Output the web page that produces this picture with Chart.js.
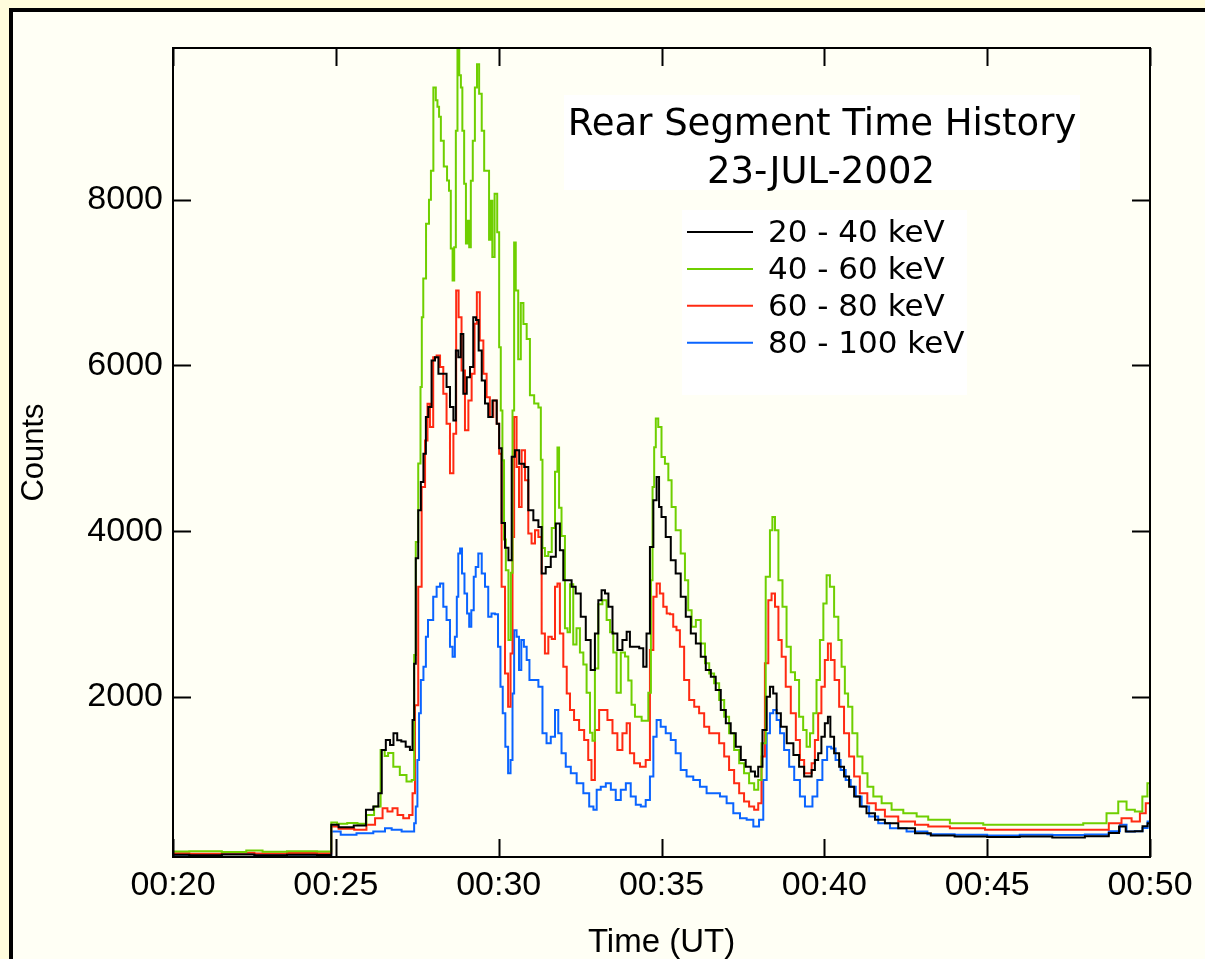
<!DOCTYPE html>
<html>
<head>
<meta charset="utf-8">
<script src="https://cdn.jsdelivr.net/npm/chart.js@4/dist/chart.umd.min.js"></script>
<style>
  html, body { margin: 0; padding: 0; }
  body { width: 1205px; height: 959px; background: #fffcdc; position: relative; overflow: hidden; }
  #panel { position: absolute; left: 9px; top: 8px; right: 0; bottom: 0;
           background: #fffff5; border-left: 4px solid #000; border-top: 4px solid #000; }
  #chart { position: absolute; left: 0; top: 0; }
</style>
</head>
<body>
<div id="panel"></div>
<canvas id="chart" width="1205" height="959"></canvas>
<script>
// minutes after 00:00 UT, counts
const band20_40 = [
  [20.0,96],[21.0,90],[22.0,100],[23.0,92],[24.0,98],[24.85,95],[24.87,458],[25.3,430],[25.8,450],
  [26.05,639],[26.25,679],[26.36,840],[26.46,1361],[26.61,1482],[26.72,1420],[26.82,1562],[26.95,1480],
  [27.07,1462],[27.22,1401],[27.33,1361],[27.38,1723],[27.43,2400],[27.48,3675],[27.58,4253],[27.64,4594],
  [27.74,4936],[27.79,5377],[27.89,5498],[27.99,6060],[28.10,6100],[28.20,5900],[28.35,5900],[28.45,5739],
  [28.56,5498],[28.66,5337],[28.71,6180],[28.81,6100],[28.86,6381],[28.97,5659],[29.07,5859],[29.17,5980],
  [29.27,6582],[29.34,6550],[29.43,6180],[29.53,5819],[29.63,5542],[29.73,5377],[29.89,5578],[29.99,5297],
  [30.04,5000],[30.14,4100],[30.25,3800],[30.35,3650],[30.45,4900],[30.55,4976],[30.71,4815],[30.86,4775],
  [30.96,4253],[31.17,4133],[31.27,4052],[31.37,3490],[31.52,3570],[31.68,3691],[31.83,4093],[31.93,3771],
  [32.04,3410],[32.19,3410],[32.29,3329],[32.44,3249],[32.60,2968],[32.75,2687],[32.90,2325],[33.01,2767],
  [33.11,3169],[33.21,3289],[33.32,3250],[33.42,3088],[33.57,2767],[33.72,2566],[33.88,2687],[33.98,2787],
  [34.08,2606],[34.24,2606],[34.39,2587],[34.49,2365],[34.59,2767],[34.70,3811],[34.80,4373],[34.90,4654],
  [34.95,4293],[35.05,4172],[35.21,3932],[35.36,3651],[35.51,3490],[35.67,3209],[35.82,2968],[35.98,2767],
  [36.13,2647],[36.28,2486],[36.44,2325],[36.59,2245],[36.74,2084],[36.90,1843],[37.05,1683],[37.20,1562],
  [37.36,1401],[37.51,1241],[37.66,1160],[37.82,1100],[37.92,1040],[38.02,1160],[38.18,1602],[38.28,2004],
  [38.38,2124],[38.48,2044],[38.59,1804],[38.74,1642],[38.95,1442],[39.15,1300],[39.30,1160],[39.46,1040],
  [39.56,1040],[39.66,1120],[39.76,1241],[39.86,1321],[39.96,1522],[40.07,1683],[40.15,1763],[40.22,1522],
  [40.38,1321],[40.53,1160],[40.68,1040],[40.84,919],[40.99,799],[41.19,678],[41.40,599],[41.71,518],
  [42.01,478],[42.53,418],[43.04,358],[43.5,330],[44.5,317],[45.5,310],[46.5,317],[47.5,305],[48.5,320],
  [48.97,360],[49.13,437],[49.38,377],[49.69,380],[49.85,440],[50.0,478]
];
const band40_60 = [
  [20.0,135],[21.0,140],[22.0,130],[22.5,148],[23.0,132],[24.0,138],[24.85,135],[24.87,486],[25.2,470],
  [25.5,480],[25.83,470],[26.05,578],[26.3,678],[26.45,1361],[26.55,1290],[26.66,1325],[26.87,1160],
  [27.06,1060],[27.28,980],[27.38,1000],[27.43,2506],[27.48,3871],[27.58,4816],[27.62,5740],[27.66,6582],
  [27.71,7048],[27.83,7711],[27.89,8000],[27.95,8350],[28.04,9353],[28.10,9200],[28.14,9120],[28.20,9000],
  [28.25,8711],[28.38,8400],[28.45,8230],[28.50,8108],[28.56,7410],[28.61,7024],[28.66,7426],[28.71,8831],
  [28.76,9815],[28.82,9500],[28.86,9353],[28.91,8831],[28.97,8193],[29.02,7470],[29.07,7747],[29.12,7426],
  [29.17,8229],[29.24,8711],[29.30,9353],[29.37,9635],[29.43,9277],[29.53,8831],[29.58,8349],[29.68,8350],
  [29.73,7518],[29.78,7988],[29.83,7310],[29.92,8072],[29.99,7606],[30.04,6220],[30.09,5458],[30.14,4855],
  [30.19,3900],[30.25,3530],[30.35,2687],[30.40,3500],[30.45,5458],[30.50,7482],[30.55,6904],[30.65,6076],
  [30.71,6754],[30.81,6500],[30.91,6318],[31.01,5640],[31.17,5542],[31.27,5494],[31.32,4864],[31.37,3798],
  [31.47,3701],[31.58,3749],[31.68,4040],[31.78,4718],[31.83,5009],[31.88,4283],[31.98,3943],[32.09,2829],
  [32.14,2780],[32.24,3361],[32.34,2635],[32.44,2829],[32.55,2537],[32.65,2393],[32.75,2053],[32.86,1569],
  [32.90,1471],[33.01,2344],[33.11,3120],[33.26,3169],[33.37,2928],[33.47,2780],[33.57,2537],[33.67,2053],
  [33.83,2537],[33.93,2489],[34.03,2199],[34.13,1907],[34.24,1763],[34.54,1713],[34.65,2053],[34.70,3410],
  [34.75,4534],[34.80,5012],[34.85,5361],[34.95,5257],[35.05,4895],[35.16,4815],[35.26,4614],[35.36,4293],
  [35.51,4012],[35.67,3731],[35.77,3410],[35.87,3048],[35.98,2847],[36.13,2928],[36.28,2647],[36.39,2406],
  [36.54,2285],[36.69,2165],[36.85,1964],[37.00,1763],[37.15,1562],[37.31,1361],[37.46,1201],[37.61,1081],
  [37.77,960],[37.92,880],[38.02,1000],[38.12,1442],[38.28,3450],[38.38,4012],[38.43,4172],[38.54,4012],
  [38.64,3410],[38.79,3088],[38.89,2606],[39.05,2300],[39.15,2205],[39.30,1763],[39.40,1602],[39.51,1401],
  [39.61,1562],[39.71,1804],[39.81,2205],[39.92,2687],[40.02,3129],[40.12,3470],[40.22,3329],[40.38,2968],
  [40.48,2687],[40.58,2365],[40.68,2044],[40.78,1883],[40.94,1562],[41.09,1281],[41.25,1081],[41.40,919],
  [41.61,799],[41.91,719],[42.22,639],[42.63,599],[43.04,558],[43.34,518],[44.37,478],[45.39,458],
  [46.41,458],[47.44,458],[48.46,478],[48.87,598],[49.18,739],[49.38,639],[49.69,618],[49.84,799],[50.0,960]
];
const band60_80 = [
  [20.0,115],[21.0,110],[22.0,120],[23.0,112],[24.0,118],[24.85,115],[24.87,438],[25.3,410],[25.83,400],
  [26.05,458],[26.36,538],[26.51,659],[26.66,618],[26.82,659],[26.97,578],[27.17,538],[27.33,578],[27.38,840],
  [27.48,1900],[27.58,3329],[27.69,4534],[27.79,5096],[27.84,5538],[27.94,5257],[28.04,6100],[28.15,6120],
  [28.25,5980],[28.35,5659],[28.45,5297],[28.56,4700],[28.66,5177],[28.73,6904],[28.81,6582],[28.91,5940],
  [29.02,5217],[29.12,5578],[29.22,5900],[29.30,6502],[29.36,6884],[29.48,6301],[29.58,5900],[29.68,5618],
  [29.78,5377],[29.89,5578],[29.99,5297],[30.04,4936],[30.14,3329],[30.25,2285],[30.33,1883],[30.40,2526],
  [30.45,3932],[30.50,5377],[30.60,4775],[30.65,4293],[30.76,4976],[30.86,4614],[30.96,3972],[31.06,3852],
  [31.17,4012],[31.27,3932],[31.37,2767],[31.47,2526],[31.58,2727],[31.68,2700],[31.78,3329],[31.83,3370],
  [31.93,2767],[32.04,2365],[32.14,2044],[32.24,1843],[32.39,1723],[32.55,1602],[32.70,1482],[32.80,1241],
  [32.90,1000],[33.01,1602],[33.16,1843],[33.26,1843],[33.42,1723],[33.57,1562],[33.72,1361],[33.88,1562],
  [33.98,1683],[34.08,1321],[34.24,1201],[34.44,1160],[34.59,1241],[34.70,2566],[34.80,3209],[34.90,3370],
  [35.00,3249],[35.11,3088],[35.21,3008],[35.31,3000],[35.41,2847],[35.51,2807],[35.62,2606],[35.77,2205],
  [35.93,1964],[36.08,1883],[36.23,1804],[36.39,1642],[36.54,1562],[36.69,1562],[36.85,1442],[37.00,1281],
  [37.15,1120],[37.31,960],[37.46,840],[37.61,739],[37.77,678],[37.92,639],[38.02,719],[38.12,1281],
  [38.23,2406],[38.33,3169],[38.43,3249],[38.54,3088],[38.64,2687],[38.74,2486],[38.89,2124],[39.05,1804],
  [39.20,1482],[39.30,1241],[39.46,1081],[39.56,1081],[39.66,1201],[39.76,1482],[39.86,1804],[39.96,2124],
  [40.07,2446],[40.15,2647],[40.25,2446],[40.38,2205],[40.53,1883],[40.68,1562],[40.84,1281],[40.99,1040],
  [41.19,840],[41.45,719],[41.71,639],[42.01,558],[42.53,498],[43.04,458],[43.34,437],[44.37,418],
  [45.5,398],[46.5,398],[47.5,400],[48.5,398],[48.97,478],[49.28,538],[49.59,498],[49.79,598],[49.95,719],[50.0,719]
];
const band80_100 = [
  [20.0,100],[21.0,95],[22.0,105],[23.0,92],[24.0,100],[24.85,98],[24.87,377],[25.43,337],[25.84,358],
  [26.46,377],[26.56,418],[26.87,398],[27.17,377],[27.38,377],[27.43,478],[27.48,678],[27.53,1241],
  [27.58,1804],[27.64,2205],[27.74,2365],[27.79,2727],[27.87,2928],[27.94,2928],[28.04,3209],[28.15,3329],
  [28.25,3370],[28.35,3088],[28.45,2928],[28.56,2606],[28.61,2486],[28.70,2727],[28.73,3209],[28.79,3731],
  [28.84,3791],[28.91,3490],[28.99,3249],[29.07,3008],[29.12,2847],[29.20,3048],[29.27,3450],[29.32,3570],
  [29.43,3731],[29.53,3490],[29.63,3329],[29.73,2968],[29.83,3008],[29.94,3000],[30.02,2606],[30.09,2124],
  [30.16,1804],[30.25,1401],[30.33,1081],[30.40,1241],[30.45,2044],[30.50,2807],[30.60,2727],[30.65,2325],
  [30.74,2687],[30.81,2606],[30.91,2446],[30.98,2205],[31.17,2205],[31.27,2124],[31.42,1562],[31.52,1442],
  [31.68,1522],[31.78,1843],[31.88,1562],[31.98,1321],[32.14,1160],[32.29,1081],[32.50,960],[32.70,840],
  [32.86,678],[32.96,639],[33.06,880],[33.21,919],[33.37,960],[33.52,880],[33.67,759],[33.83,880],
  [33.98,960],[34.13,799],[34.29,699],[34.44,678],[34.59,759],[34.70,1040],[34.80,1522],[34.90,1723],
  [35.05,1642],[35.21,1562],[35.36,1482],[35.51,1321],[35.67,1120],[35.87,1040],[36.08,1000],[36.28,919],
  [36.49,840],[36.69,840],[36.90,799],[37.10,719],[37.31,598],[37.51,538],[37.72,518],[37.92,437],
  [38.07,518],[38.18,1000],[38.28,1562],[38.38,1804],[38.48,1843],[38.59,1723],[38.69,1562],[38.84,1361],
  [39.00,1160],[39.15,1000],[39.35,799],[39.46,678],[39.56,678],[39.71,799],[39.86,1000],[40.02,1241],
  [40.15,1401],[40.27,1380],[40.42,1241],[40.58,1120],[40.73,1000],[40.89,919],[41.04,799],[41.25,678],
  [41.50,558],[41.81,478],[42.22,418],[42.83,377],[43.5,345],[44.5,337],[45.5,330],[46.5,337],[47.5,335],
  [48.5,340],[48.97,380],[49.18,458],[49.38,377],[49.69,380],[49.85,420],[50.0,498]
];

const bandLabels = ['20 - 40 keV', '40 - 60 keV', '60 - 80 keV', '80 - 100 keV'];
const bandColors = ['#000000', '#6fcf00', '#ff2a12', '#0a64ff'];
const timeTicks = [20, 25, 30, 35, 40, 45, 50];
const countTicks = [2000, 4000, 6000, 8000];
const titleLines = ['Rear Segment Time History', '23-JUL-2002'];

const bands = [band20_40, band40_60, band60_80, band80_100];

// frame with inward ticks, title box and legend box drawn inside the plot
const framePlugin = {
  id: 'frame',
  afterDatasetsDraw(chart) {
    const ctx = chart.ctx;
    const a = chart.chartArea;
    const xs = chart.scales.x, ys = chart.scales.y;
    ctx.save();
    ctx.strokeStyle = '#000';
    ctx.lineWidth = 2;
    ctx.strokeRect(a.left, a.top, a.right - a.left, a.bottom - a.top);
    ctx.beginPath();
    timeTicks.forEach(t => {
      const x = Math.round(xs.getPixelForValue(t)) + 0.5;
      ctx.moveTo(x, a.bottom); ctx.lineTo(x, a.bottom - 18);
      ctx.moveTo(x, a.top); ctx.lineTo(x, a.top + 18);
    });
    countTicks.forEach(c => {
      const y = Math.round(ys.getPixelForValue(c)) + 0.5;
      ctx.moveTo(a.left, y); ctx.lineTo(a.left + 18, y);
      ctx.moveTo(a.right, y); ctx.lineTo(a.right - 18, y);
    });
    ctx.stroke();

    // title
    ctx.fillStyle = '#ffffff';
    ctx.fillRect(564, 95, 516, 95);
    ctx.fillStyle = '#000';
    ctx.font = '37px "DejaVu Sans"';
    ctx.textAlign = 'center';
    ctx.textBaseline = 'alphabetic';
    ctx.fillText(titleLines[0], 822, 135);
    ctx.fillText(titleLines[1], 821, 183);

    // legend
    ctx.fillStyle = '#ffffff';
    ctx.fillRect(682, 210, 285, 185);
    ctx.font = '31px "DejaVu Sans"';
    ctx.textAlign = 'left';
    chart.data.datasets.forEach((ds, i) => {
      const y = 232 + i * 36.9;
      ctx.strokeStyle = ds.borderColor;
      ctx.lineWidth = 2;
      ctx.beginPath();
      ctx.moveTo(687, y); ctx.lineTo(753, y);
      ctx.stroke();
      ctx.fillStyle = '#000';
      ctx.fillText(ds.label, 768, y + 10);
    });
    ctx.restore();
  }
};

const axisFont = { family: '"Liberation Sans", Arial, sans-serif', size: 34 };

new Chart(document.getElementById('chart'), {
  type: 'line',
  data: {
    datasets: bands.map((b, i) => ({
      label: bandLabels[i],
      data: b.map(p => ({ x: p[0], y: p[1] })),
      borderColor: bandColors[i],
      borderWidth: 2,
      pointRadius: 0,
      fill: false,
      stepped: 'middle'
    }))
  },
  options: {
    responsive: false,
    animation: false,
    events: [],
    layout: { padding: { left: 0, right: 55, top: 48, bottom: 0 } },
    plugins: { legend: { display: false }, tooltip: { enabled: false } },
    scales: {
      x: {
        type: 'linear',
        min: 20,
        max: 50,
        afterBuildTicks: s => { s.ticks = timeTicks.map(v => ({ value: v })); },
        afterFit: s => { s.height = 102; },
        grid: { display: false, drawTicks: false },
        border: { display: false },
        ticks: {
          padding: 8,
          color: '#000',
          font: axisFont,
          maxRotation: 0,
          autoSkip: false,
          callback: v => '00:' + v
        },
        title: {
          display: true,
          text: 'Time (UT)',
          color: '#000',
          font: { family: axisFont.family, size: 33, lineHeight: 1 },
          padding: 0
        }
      },
      y: {
        min: 70,
        max: 9830,
        afterBuildTicks: s => { s.ticks = countTicks.map(v => ({ value: v })); },
        afterFit: s => { s.width = 173; },
        grid: { display: false, drawTicks: false },
        border: { display: false },
        ticks: {
          padding: 10,
          color: '#000',
          font: axisFont,
          callback: v => String(v)
        },
        title: {
          display: true,
          text: 'Counts',
          color: '#000',
          font: { family: axisFont.family, size: 31, lineHeight: 1.2 },
          padding: { top: 16, bottom: 0 }
        }
      }
    }
  },
  plugins: [framePlugin]
});
</script>
</body>
</html>
